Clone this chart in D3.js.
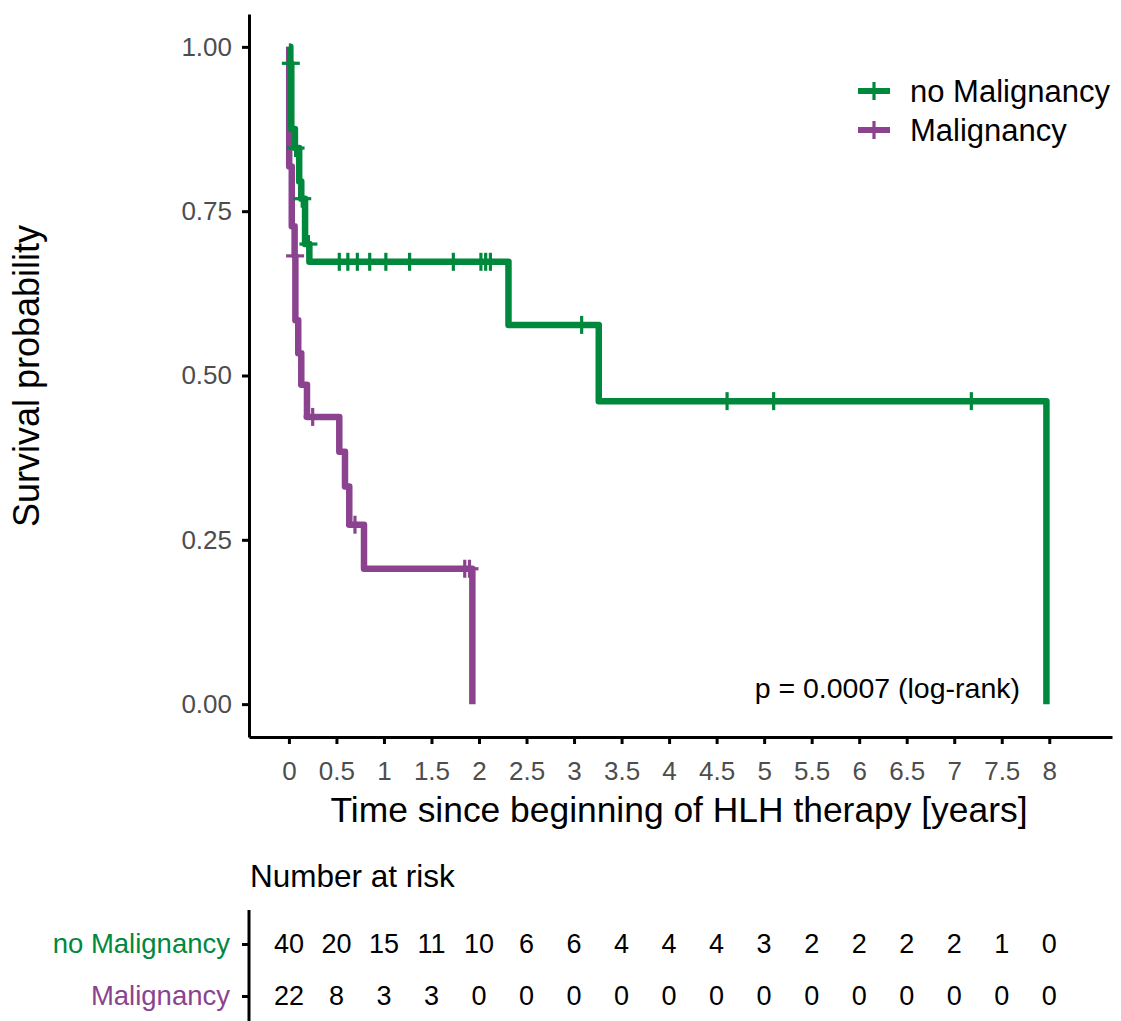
<!DOCTYPE html>
<html>
<head>
<meta charset="utf-8">
<script src="https://cdn.jsdelivr.net/npm/d3@7"></script>
<style>
  body { margin: 0; background: #fff; }
  svg { font-family: "Liberation Sans", Arial, sans-serif; }
</style>
</head>
<body>
<svg id="chart" width="1121" height="1021"></svg>
<script>
// survival curve data
const groups = ["no Malignancy", "Malignancy"];
const colors = ["#00883d", "#8b4390"];

// time (years) of each step and survival just after it
const noMalTime = [0, 0.015, 0.025, 0.063, 0.108, 0.13, 0.17, 0.215, 2.31, 3.26, 7.97];
const noMalSurv = [1, 0.975, 0.875, 0.846, 0.795, 0.769, 0.70, 0.673, 0.577, 0.461, 0];
const noMalCensor = [0.02, 0.07, 0.14, 0.205, 0.53, 0.62, 0.72, 0.85, 1.02, 1.27, 1.73, 2.02, 2.07, 2.12, 3.08, 4.61, 5.10, 7.18];

const malTime = [0, 0.003, 0.03, 0.06, 0.068, 0.098, 0.13, 0.19, 0.53, 0.59, 0.635, 0.79, 1.93];
const malSurv = [1, 0.818, 0.727, 0.682, 0.584, 0.534, 0.486, 0.437, 0.384, 0.331, 0.273, 0.206, 0];
const malCensor = [0.065, 0.25, 0.695, 1.85, 1.90];

// x ticks and number at risk
const timeTicks = d3.range(0, 8.01, 0.5);
const survTicks = [0, 0.25, 0.5, 0.75, 1];
const noMalRisk = [40, 20, 15, 11, 10, 6, 6, 4, 4, 4, 3, 2, 2, 2, 2, 1, 0];
const malRisk = [22, 8, 3, 3, 0, 0, 0, 0, 0, 0, 0, 0, 0, 0, 0, 0, 0];

const svg = d3.select("#chart");

const x = d3.scaleLinear().domain([-0.42, 8.66]).range([249, 1112]);
const y = d3.scaleLinear().domain([-0.05, 1.05]).range([737, 14]);

// axes
const xAxis = d3.axisBottom(x).tickValues(timeTicks).tickSize(7).tickSizeOuter(0).tickPadding(18)
  .tickFormat(d3.format("~g"));
const yAxis = d3.axisLeft(y).tickValues(survTicks).tickSize(7).tickSizeOuter(0).tickPadding(10)
  .tickFormat(d3.format(".2f"));

const gx = svg.append("g").attr("transform", "translate(0,737)").call(xAxis);
const gy = svg.append("g").attr("transform", "translate(249,0)").call(yAxis);

[gx, gy].forEach(g => {
  g.select(".domain").attr("stroke", "#000").attr("stroke-width", 3);
  g.selectAll(".tick line").attr("stroke", "#000").attr("stroke-width", 3);
  g.selectAll(".tick text").attr("fill", "#4d4d4d").style("font-size", "26px");
});

// axis titles
svg.append("text")
  .attr("x", 679).attr("y", 822)
  .attr("text-anchor", "middle")
  .style("font-size", "35.4px")
  .text("Time since beginning of HLH therapy [years]");

svg.append("text")
  .attr("transform", "translate(39,376) rotate(-90)")
  .attr("text-anchor", "middle")
  .style("font-size", "36px")
  .text("Survival probability");

// curves
const series = [
  { time: noMalTime, surv: noMalSurv, censor: noMalCensor },
  { time: malTime, surv: malSurv, censor: malCensor }
];

const line = d3.line()
  .x(d => x(d[0]))
  .y(d => y(d[1]))
  .curve(d3.curveStepAfter);

function survAt(s, t) {
  let v = 1;
  s.time.forEach((tt, i) => { if (tt <= t) v = s.surv[i]; });
  return v;
}

// draw purple first so green sits on top like the reference
[1, 0].forEach(i => {
  const s = series[i];
  const pts = s.time.map((t, j) => [t, s.surv[j]]);
  svg.append("path")
    .datum(pts)
    .attr("fill", "none")
    .attr("stroke", colors[i])
    .attr("stroke-width", 6.5)
    .attr("stroke-linejoin", "round")
    .attr("d", line);

  const marks = svg.append("g").attr("stroke", colors[i]).attr("stroke-width", 3.2);
  s.censor.forEach(t => {
    const cx = x(t), cy = y(survAt(s, t));
    marks.append("line").attr("x1", cx - 9).attr("x2", cx + 9).attr("y1", cy).attr("y2", cy);
    marks.append("line").attr("x1", cx).attr("x2", cx).attr("y1", cy - 9).attr("y2", cy + 9);
  });
});

// p value
svg.append("text")
  .attr("x", 1020).attr("y", 698)
  .attr("text-anchor", "end")
  .style("font-size", "28.5px")
  .text("p = 0.0007 (log-rank)");

// legend
const legend = svg.append("g");
groups.forEach((g, i) => {
  const ly = 91 + i * 39;
  legend.append("line").attr("x1", 858).attr("x2", 890).attr("y1", ly).attr("y2", ly)
    .attr("stroke", colors[i]).attr("stroke-width", 6);
  legend.append("line").attr("x1", 874).attr("x2", 874).attr("y1", ly - 9).attr("y2", ly + 9)
    .attr("stroke", colors[i]).attr("stroke-width", 3.2);
  legend.append("text").attr("x", 910).attr("y", ly).attr("dy", "0.35em")
    .style("font-size", "31px").text(g);
});

// number at risk table
svg.append("text")
  .attr("x", 250).attr("y", 887)
  .style("font-size", "31.5px")
  .text("Number at risk");

const row = d3.scalePoint().domain(groups).range([944, 996]);
const gr = svg.append("g").attr("transform", "translate(249,0)")
  .call(d3.axisLeft(row).tickSize(7).tickPadding(12));
gr.select(".domain").remove();
gr.append("line").attr("x1", 0).attr("x2", 0).attr("y1", 910).attr("y2", 1025)
  .attr("stroke", "#000").attr("stroke-width", 3);
gr.selectAll(".tick line").attr("stroke", "#000").attr("stroke-width", 3);
gr.selectAll(".tick text")
  .style("font-size", "27.5px")
  .attr("fill", (d, i) => colors[i]);

const riskRows = [noMalRisk, malRisk];
riskRows.forEach((vals, i) => {
  svg.append("g").selectAll("text")
    .data(vals)
    .enter().append("text")
    .attr("x", (d, j) => x(timeTicks[j]))
    .attr("y", row(groups[i]))
    .attr("dy", "0.35em")
    .attr("text-anchor", "middle")
    .style("font-size", "27px")
    .text(d => d);
});
</script>
</body>
</html>
